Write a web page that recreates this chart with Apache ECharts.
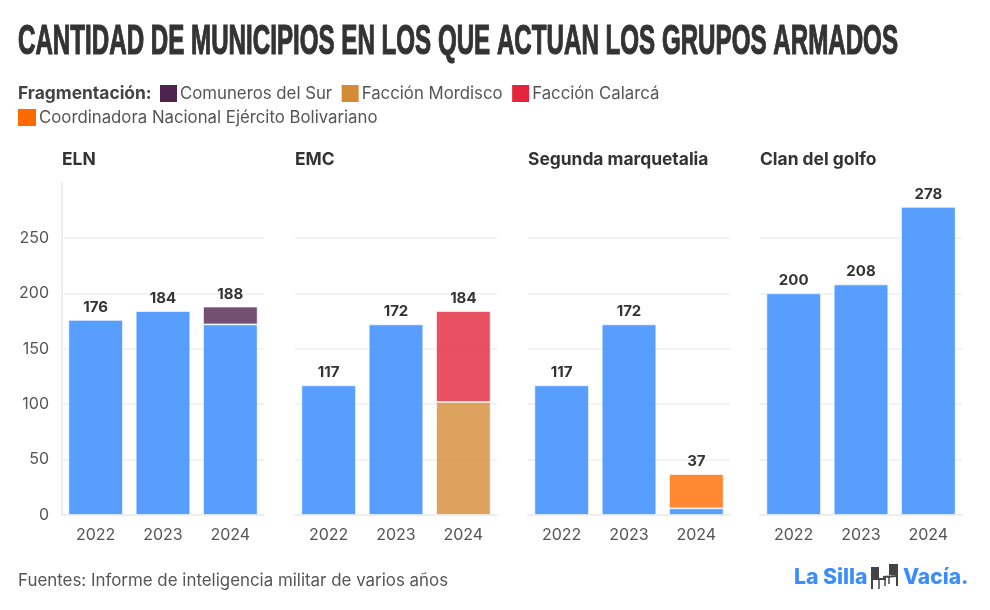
<!DOCTYPE html>
<html><head><meta charset="utf-8">
<style>html,body{margin:0;padding:0;background:#fff}#c{width:990px;height:610px}</style>
<script src="https://cdn.jsdelivr.net/npm/echarts@6/dist/echarts.min.js"></script>
</head><body><div id="c"></div>
<script>
const years = ['2022','2023','2024'];
const panels = ['ELN','EMC','Segunda marquetalia','Clan del golfo'];
const base = [[176,184,172],[117,172,0],[117,172,6],[200,208,278]];
const comuneros = [0,0,16];
const mordisco = [0,0,102];
const calarca = [0,0,82];
const coordinadora = [0,0,31];
const totals = [[176,184,188],[117,172,184],[117,172,37],[200,208,278]];
const yMax = 300, yStep = 50;
const mainTitle = 'CANTIDAD DE MUNICIPIOS EN LOS QUE ACTUAN LOS GRUPOS ARMADOS';

const FONT = 'Inter';
const gridLefts = [62,295,528,760];
const fragColors = {'Comuneros del Sur':'#4f2350','Facción Mordisco':'#d38b36','Facción Calarcá':'#e3243b','Coordinadora Nacional Ejército Bolivariano':'#ff6a00'};
const fragByPanel = [[['Comuneros del Sur',comuneros]],[['Facción Mordisco',mordisco],['Facción Calarcá',calarca]],[['Coordinadora Nacional Ejército Bolivariano',coordinadora]],[]];

const grid=[],xAxis=[],yAxis=[],series=[];
panels.forEach((p,i)=>{
  grid.push({left:gridLefts[i],width:202,top:182.5,height:332.5});
  xAxis.push({type:'category',gridIndex:i,data:years,
    axisLine:{lineStyle:{color:'#eeeeee',width:2}},
    axisTick:{alignWithLabel:true,length:5,lineStyle:{color:'#eeeeee',width:1.5}},
    axisLabel:{color:'#555',fontFamily:FONT,fontSize:16,margin:12}});
  yAxis.push({type:'value',gridIndex:i,min:0,max:yMax,interval:yStep,
    axisLine:{show:i===0,lineStyle:{color:'#eeeeee',width:2}},axisTick:{show:false},
    splitLine:{show:true,showMinLine:false,showMaxLine:false,lineStyle:{color:'#eeeeee',width:1.5}},
    axisLabel:{show:i===0,showMaxLabel:false,color:'#555',fontFamily:FONT,fontSize:16,margin:13,padding:[4,0,0,0]}});
  const stack='s'+i;
  const bar=(name,data,color)=>({name,type:'bar',stack,xAxisIndex:i,yAxisIndex:i,data:data.map(v=>v||null),
    barCategoryGap:'19%',itemStyle:{color,opacity:0.8,borderColor:'#fff',borderWidth:0.8},silent:true});
  series.push(bar('Total',base[i],'#2e86ff'));
  fragByPanel[i].forEach(([n,d])=>series.push(bar(n,d,fragColors[n])));
  series.push({type:'line',name:'Etiqueta',xAxisIndex:i,yAxisIndex:i,data:totals[i],symbol:'circle',symbolSize:0,
    lineStyle:{opacity:0},silent:true,
    label:{show:true,position:'top',distance:5,color:'#333',fontFamily:FONT,fontWeight:700,fontSize:15}});
});
const txt=(x,y,text,style)=>({type:'text',x,y,style:Object.assign({text,fontFamily:FONT,fill:'#555',verticalAlign:'middle'},style)});
const legendItem=(left,top,names,w)=>({left,top,orient:'horizontal',data:names,itemWidth:w,itemHeight:17,itemGap:9.5,
  icon:'rect',selectedMode:false,itemStyle:{opacity:1,borderWidth:0},textStyle:{color:'#555',fontFamily:FONT,fontSize:16.8,padding:[8,0,0,-2]},padding:0});
const titleFont='700 42px "Liberation Sans"';
const mc=document.createElement('canvas').getContext('2d');mc.font=titleFont;
const titleScale=880/mc.measureText(mainTitle).width;
const G='#444';
const line=(points,w)=>({type:'polyline',shape:{points},style:{stroke:G,lineWidth:w||2,fill:null}});
const chart=echarts.init(document.getElementById('c'),null,{renderer:'canvas'});
chart.setOption({
  animation:false,backgroundColor:'#fff',
  legend:[legendItem(160,85,['Comuneros del Sur','Facción Mordisco','Facción Calarcá'],17),
          legendItem(18,109,['Coordinadora Nacional Ejército Bolivariano'],18)],
  grid,xAxis,yAxis,series,
  graphic:[
    {type:'text',x:18,y:42,scaleX:titleScale,style:{text:mainTitle,font:titleFont,fill:'#333',stroke:'#333',lineWidth:1.2,verticalAlign:'middle'}},
    txt(18,94,'Fragmentación:',{fontWeight:700,fontSize:17.4,fill:'#444'}),
    ...panels.map((p,i)=>txt(gridLefts[i],160,p,{fontWeight:700,fontSize:17.4,fill:'#333'})),
    txt(18,581,'Fuentes: Informe de inteligencia militar de varios años',{fontSize:16.9}),
    txt(794,578,'La Silla',{fontWeight:800,fontSize:21.2,fill:'#3b8dfb'}),
    txt(903,578,'Vacía.',{fontWeight:800,fontSize:21,fill:'#3b8dfb'}),
    {type:'group',x:871,y:564,children:[
      {type:'rect',shape:{x:1,y:3,width:7,height:11},style:{fill:G}},
      line([[1,3],[1,25]]),line([[1,15],[15,15]]),line([[8,15],[8,25]],1.5),line([[14,15],[14,22]],1.5),
      {type:'rect',shape:{x:18,y:0,width:8,height:11},style:{fill:G}},
      line([[26,0],[26,22]]),line([[26,12],[12,13]]),line([[18,12],[18,20]],1.5)
    ]}
  ]
});
</script></body></html>
